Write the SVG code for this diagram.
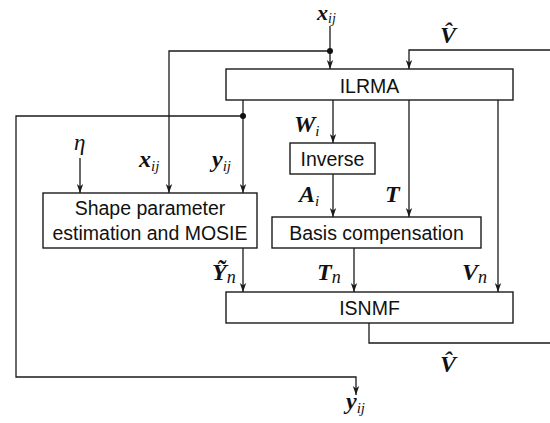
<svg xmlns="http://www.w3.org/2000/svg" width="550" height="423" viewBox="0 0 550 423">
<style>
.box{fill:#fff;stroke:#1a1a1a;stroke-width:1.4}
.lbl{font-family:"Liberation Sans",Arial,sans-serif;font-size:19.5px;fill:#111;text-anchor:middle}
.ln{fill:none;stroke:#1a1a1a;stroke-width:1.3}
.m{font-family:"Liberation Serif","DejaVu Serif",serif;font-size:24px;font-weight:bold;font-style:italic;fill:#111}
.s{font-family:"Liberation Serif","DejaVu Serif",serif;font-size:15px;font-style:italic;font-weight:normal;fill:#111}
</style>
<defs>
<marker id="arr" markerUnits="userSpaceOnUse" markerWidth="12" markerHeight="10" viewBox="-10 -5 12 10" refX="0" refY="0" orient="auto">
<path d="M0,0 L-9,-3.2 L-6.5,0 L-9,3.2 Z" fill="#1a1a1a"/>
</marker>
</defs>
<rect width="550" height="423" fill="#fff"/>
<g id="connectors">
<path class="ln" d="M330,26 V69" marker-end="url(#arr)"/>
<path class="ln" d="M330,51 H169 V193" marker-end="url(#arr)"/>
<path class="ln" d="M550,50 H409 V69" marker-end="url(#arr)"/>
<path class="ln" d="M243,100 V193" marker-end="url(#arr)"/>
<path class="ln" d="M243,116 H16 V377 H356 V395" marker-end="url(#arr)"/>
<path class="ln" d="M80,158 V193" marker-end="url(#arr)"/>
<path class="ln" d="M333,100 V143" marker-end="url(#arr)"/>
<path class="ln" d="M333,174 V217" marker-end="url(#arr)"/>
<path class="ln" d="M409,100 V217" marker-end="url(#arr)"/>
<path class="ln" d="M498,100 V292" marker-end="url(#arr)"/>
<path class="ln" d="M243,248 V292" marker-end="url(#arr)"/>
<path class="ln" d="M354,248 V292" marker-end="url(#arr)"/>
<path class="ln" d="M369,323 V343 H550"/>
<circle cx="330" cy="51" r="3" fill="#111"/>
<circle cx="243" cy="116" r="3" fill="#111"/>
</g>
<g id="ILRMA">
<rect class="box" x="226" y="69" width="287" height="31"/>
<text class="lbl" x="369.5" y="93">ILRMA</text>
</g>
<g id="Inverse">
<rect class="box" x="290" y="143" width="85" height="31"/>
<text class="lbl" x="332.5" y="165.5">Inverse</text>
</g>
<g id="Basis">
<rect class="box" x="272" y="217" width="209" height="31"/>
<text class="lbl" x="376.5" y="240">Basis compensation</text>
</g>
<g id="Shape">
<rect class="box" x="43" y="193" width="214" height="55"/>
<text class="lbl" x="150" y="215">Shape parameter</text>
<text class="lbl" x="150" y="240">estimation and MOSIE</text>
</g>
<g id="ISNMF">
<rect class="box" x="226" y="292" width="287" height="31"/>
<text class="lbl" x="369.5" y="315">ISNMF</text>
</g>
<g id="labels">
<text x="317" y="20"><tspan class="m" style="font-size:22px">x</tspan><tspan class="s" dy="3" style="font-size:14px">ij</tspan></text>
<text class="m" x="440" y="43">V&#x302;</text>
<text x="74" y="150" class="s" style="font-size:23px">η</text>
<text x="139" y="167"><tspan class="m">x</tspan><tspan class="s" dy="4">ij</tspan></text>
<text x="212" y="167"><tspan class="m">y</tspan><tspan class="s" dy="4">ij</tspan></text>
<text x="294" y="132"><tspan class="m">W</tspan><tspan class="s" dy="4">i</tspan></text>
<text x="299" y="202"><tspan class="m">A</tspan><tspan class="s" dy="4">i</tspan></text>
<text class="m" x="385" y="202">T</text>
<text x="212" y="280"><tspan class="m">Y&#x303;</tspan><tspan class="s" dy="3" style="font-size:18px">n</tspan></text>
<text x="317" y="280"><tspan class="m">T</tspan><tspan class="s" dy="3" style="font-size:18px">n</tspan></text>
<text x="462" y="280"><tspan class="m">V</tspan><tspan class="s" dy="3" style="font-size:18px">n</tspan></text>
<text class="m" x="440" y="372">V&#x302;</text>
<text x="346" y="409"><tspan class="m">y</tspan><tspan class="s" dy="4">ij</tspan></text>
</g>
</svg>
